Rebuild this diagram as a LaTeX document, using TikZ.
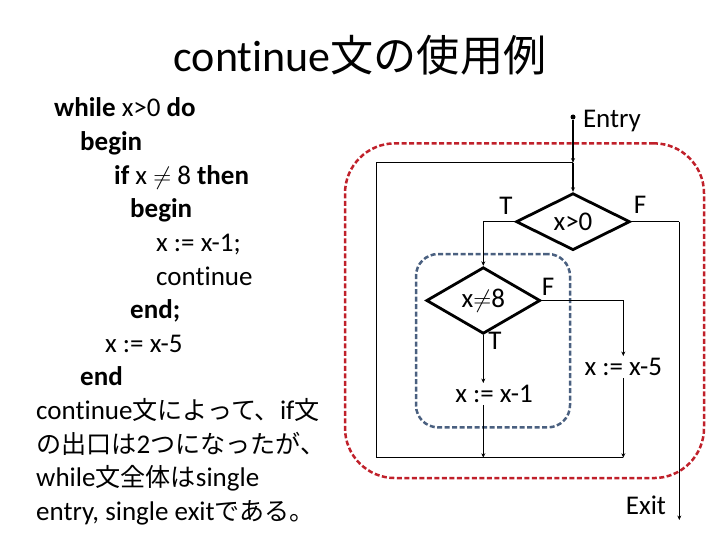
\documentclass[tikz,border=0pt]{standalone}
\usepackage{fontspec}
\setmainfont{Carlito}[Ligatures=NoCommon]
\newfontfamily\jp[Scale=0.93]{Noto Sans CJK JP}
\newfontfamily\jpt[Scale=0.98]{Noto Sans CJK JP}
\usetikzlibrary{shapes.geometric,arrows.meta}
\definecolor{redd}{HTML}{C0202A}
\definecolor{blued}{HTML}{4A6080}
\begin{document}
\begin{tikzpicture}[x=1pt,y=-1pt,
  dec/.style={diamond, draw, line width=2.8pt, inner sep=0pt, minimum width=114pt, minimum height=57pt, font=\fontsize{27}{30}\selectfont},
  conn/.style={line width=1.3pt},
  arr/.style={conn, -{Stealth[length=4.5pt,width=4pt]}},
  lbl/.style={font=\fontsize{27}{30}\selectfont},
  code/.style={anchor=base west, font=\fontsize{27}{30}\selectfont, inner sep=0pt}]
\useasboundingbox (0,0) rectangle (720,540);
% title
\node[font=\fontsize{44}{48}\selectfont] (title) at (360,55) {continue{\jpt 文の使用例}};
% code
\node[code] (c1) at (54,117) {\textbf{while} x>0 \textbf{do}};
\node[code] (c2) at (80,150.6) {\textbf{begin}};
\node[code] (c3) at (114,184.2) {\textbf{if} x $\neq$ 8 \textbf{then}};
\node[code] (c4) at (130,217.8) {\textbf{begin}};
\node[code] (c5) at (156,251.4) {x := x-1;};
\node[code] (c6) at (156,285) {continue};
\node[code] (c7) at (130,318.6) {\textbf{end;}};
\node[code] (c8) at (105,352.2) {x := x-5};
\node[code] (c9) at (80,385.8) {\textbf{end}};
\node[code] (c10) at (36,419.4) {continue{\jp 文によって、}if{\jp 文}};
\node[code] (c11) at (36,453) {{\jp の出口は}2{\jp つになったが、}};
\node[code] (c12) at (36,486.6) {while{\jp 文全体は}single};
\node[code] (c13) at (36,520.2) {entry, single exit{\jp である。}};
% regions
\node[draw=redd, dashed, dash pattern=on 5pt off 2.5pt, line width=2.5pt, rounded corners=50pt, minimum width=359pt, minimum height=334.7pt] (outer) at (524.5,310.7) {};
\node[draw=blued, dashed, dash pattern=on 5pt off 2.5pt, line width=2.5pt, rounded corners=22pt, minimum width=154pt, minimum height=173.3pt] (inner) at (493,340.7) {};
% flowchart
\node[circle, fill, inner sep=0pt, minimum size=5pt] (entry) at (573,117) {};
\node[lbl] (entrytxt) at (612,121) {Entry};
\coordinate (j1) at (573,162.7);
\node[dec] (d1) at (573,221.7) {x>0};
\node[lbl] (tl1) at (506,206) {T};
\node[lbl] (fl1) at (640,205) {F};
\coordinate (t1) at (483.3,221.7);
\node[dec] (d2) at (483.3,300.5) {x$\neq$8};
\node[lbl] (fl2) at (548,287) {F};
\node[lbl] (tl2) at (495,341) {T};
\coordinate (f1) at (679.3,221.7);
\coordinate (exit) at (679.3,520);
\node[lbl] (exittxt) at (646,505) {Exit};
\node[lbl, inner ysep=2pt] (s5) at (623.3,367) {x := x-5};
\node[lbl, inner ysep=2pt] (s1) at (494,394) {x := x-1};
\coordinate (j2) at (483.3,457.7);
\coordinate (j3) at (623.3,457.7);
\coordinate (lb) at (376.7,457.7);
\coordinate (lt) at (376.7,162.7);
\draw[arr] (entry) -- (j1);
\draw[arr] (j1) -- (d1.north);
\draw[conn] (d1.west) -- (t1);
\draw[arr] (t1) -- (d2.north);
\draw[conn] (d1.east) -- (f1);
\draw[arr] (f1) -- (exit);
\draw[arr] (d2.east) -| (s5.north);
\draw[arr] (d2.south) -- (d2.south |- s1.north);
\draw[arr] (d2.south |- s1.south) -- (j2);
\draw[arr] (s5.south) -- (j3);
\draw[conn] (j3) -- (lb) -- (lt) -- (j1);
\end{tikzpicture}
\end{document}
